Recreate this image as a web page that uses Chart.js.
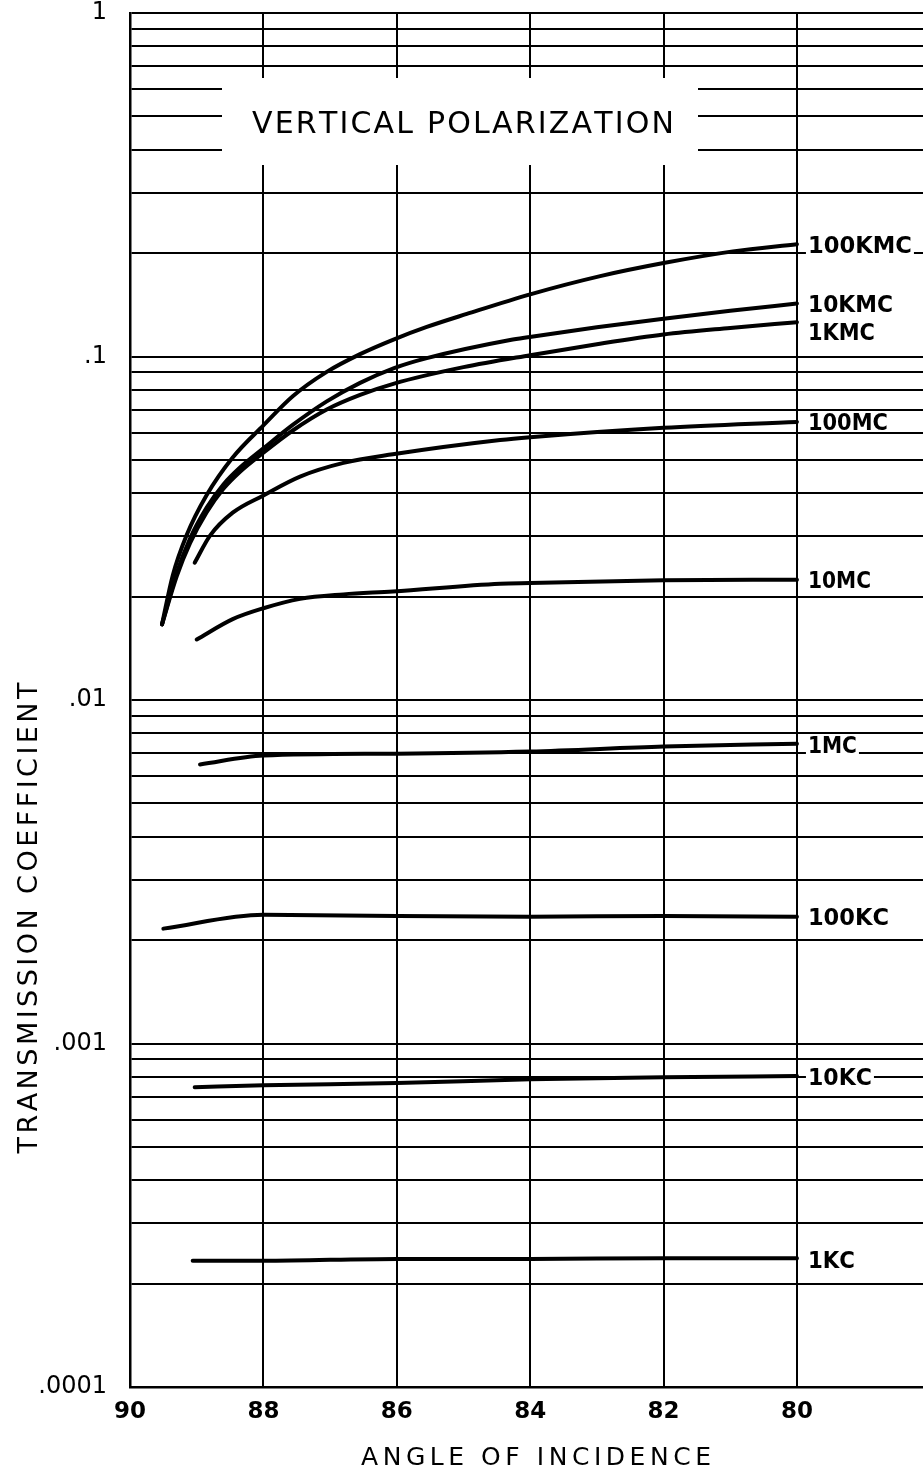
<!DOCTYPE html>
<html>
<head>
<meta charset="utf-8">
<script src="https://cdn.jsdelivr.net/npm/chart.js@4.4.1/dist/chart.umd.min.js"></script>
<style>
html,body{margin:0;padding:0;background:#fff;}
canvas{display:block;}
</style>
</head>
<body>
<canvas id="c" width="923" height="1475"></canvas>
<script>
// ---------------- DATA ----------------
const chartTitle = 'VERTICAL POLARIZATION';
const xTitle = 'ANGLE OF INCIDENCE';
const yTitle = 'TRANSMISSION COEFFICIENT';

const xTicks = [90, 88, 86, 84, 82, 80];
const xTickLabels = ['90', '88', '86', '84', '82', '80'];
const yDecades = [0.0001, 0.001, 0.01, 0.1, 1];
const yDecadeLabels = ['.0001', '.001', '.01', '.1', '1'];
const yMinorSteps = [1, 2, 3, 4, 5, 6, 7, 8, 9];

const seriesNames = ['100KMC', '10KMC', '1KMC', '100MC', '10MC', '1MC', '100KC', '10KC', '1KC'];

const angles100KMC = [89.52, 89.36, 89.15, 88.85, 88.46, 88.0, 87.56, 87.05, 86.55, 86.04, 85.55, 84.95, 84.0, 82.95, 82.0, 80.96, 80.0];
const coef100KMC   = [0.0166, 0.0230, 0.0302, 0.0395, 0.0508, 0.0630, 0.0766, 0.0902, 0.1016, 0.1122, 0.1219, 0.1330, 0.1517, 0.1714, 0.1871, 0.2023, 0.2123];

const angles10KMC = [89.52, 89.3, 89.1, 88.85, 88.6, 88.35, 88.0, 87.56, 87.05, 86.55, 86.04, 85.55, 84.3, 84.0, 83.0, 82.0, 81.0, 80.0];
const coef10KMC   = [0.0166, 0.0234, 0.0295, 0.0363, 0.0424, 0.0475, 0.0540, 0.0632, 0.0740, 0.0838, 0.0925, 0.0989, 0.1117, 0.1140, 0.1216, 0.1288, 0.1358, 0.1426];

const angles1KMC = [89.52, 89.3, 89.1, 88.85, 88.6, 88.35, 88.0, 87.56, 87.05, 86.55, 86.04, 85.0, 84.0, 83.0, 82.0, 81.0, 80.0];
const coef1KMC   = [0.0166, 0.0229, 0.0286, 0.0352, 0.0412, 0.0462, 0.0525, 0.0609, 0.0701, 0.0773, 0.0834, 0.0931, 0.1009, 0.1086, 0.1159, 0.1211, 0.1259];

const angles100MC = [89.03, 88.8, 88.46, 88.0, 87.45, 86.8, 86.06, 84.45, 84.0, 82.0, 80.0];
const coef100MC   = [0.0251, 0.0301, 0.0351, 0.0394, 0.0447, 0.0490, 0.0519, 0.0571, 0.0582, 0.0620, 0.0645];

const angles10MC = [89.0, 88.46, 88.0, 87.45, 86.8, 86.06, 84.45, 84.0, 82.0, 80.0];
const coef10MC   = [0.0150, 0.0172, 0.0185, 0.0197, 0.0203, 0.0207, 0.0218, 0.0219, 0.0223, 0.0224];

const angles1MC = [88.95, 88.0, 86.0, 84.0, 82.0, 80.0];
const coef1MC   = [0.00649, 0.00689, 0.00698, 0.00708, 0.00732, 0.00746];

const angles100KC = [89.5, 88.0, 86.0, 84.0, 82.0, 80.0];
const coef100KC   = [0.00216, 0.00237, 0.00235, 0.00234, 0.00235, 0.00234];

const angles10KC = [89.03, 88.0, 86.0, 84.0, 82.0, 80.0];
const coef10KC   = [0.000746, 0.000756, 0.000767, 0.000787, 0.000798, 0.000804];

const angles1KC = [89.06, 88.0, 86.0, 84.0, 82.0, 80.0];
const coef1KC   = [0.000233, 0.000233, 0.000236, 0.000236, 0.000237, 0.000237];

const seriesAngles = [angles100KMC, angles10KMC, angles1KMC, angles100MC, angles10MC, angles1MC, angles100KC, angles10KC, angles1KC];
const seriesCoefs  = [coef100KMC, coef10KMC, coef1KMC, coef100MC, coef10MC, coef1MC, coef100KC, coef10KC, coef1KC];

// ---------------- STYLE / DRAWING ----------------
const FAMILY = "'DejaVu Sans', 'Liberation Sans', sans-serif";
const CAP = 0.73;

function spacedText(ctx, text, cx, cy, width, size, weight) {
  ctx.save();
  ctx.font = (weight || 'normal') + ' ' + size + 'px ' + FAMILY;
  ctx.textAlign = 'left';
  ctx.textBaseline = 'alphabetic';
  const chars = [...text];
  const ws = chars.map(ch => ctx.measureText(ch).width);
  const nat = ws.reduce((a, b) => a + b, 0);
  const base = cy + size * CAP / 2;
  if (nat >= width) {
    ctx.translate(cx - width / 2, base);
    ctx.scale(width / nat, 1);
    let x = 0;
    chars.forEach((ch, i) => { ctx.fillText(ch, x, 0); x += ws[i]; });
  } else {
    const gap = chars.length > 1 ? (width - nat) / (chars.length - 1) : 0;
    let x = cx - width / 2;
    chars.forEach((ch, i) => { ctx.fillText(ch, x, base); x += ws[i] + gap; });
  }
  ctx.restore();
}

const labelWidths = [104, 85, 67, 80, 63, 49, 81, 64, 47];
const labelNudge  = [0, 0, 9, 0, 0, 1, 0, 1, 1];

const annotations = {
  id: 'annotations',
  beforeDraw(chart) {
    const ctx = chart.ctx;
    ctx.save();
    ctx.fillStyle = '#fff';
    ctx.fillRect(0, 0, chart.width, chart.height);
    ctx.restore();
  },
  beforeDatasetsDraw(chart) {
    const ctx = chart.ctx;
    ctx.save();
    ctx.fillStyle = '#fff';
    ctx.fillRect(222, 78, 476, 87);
    ctx.fillStyle = '#000';
    spacedText(ctx, chartTitle, 463, 122, 422, 30, 'normal');
    ctx.restore();
  },
  afterDatasetsDraw(chart) {
    const ctx = chart.ctx;
    const xs = chart.scales.x, ys = chart.scales.y;
    ctx.save();
    const x80 = xs.getPixelForValue(80);
    seriesNames.forEach((name, i) => {
      const coefs = seriesCoefs[i];
      const y = ys.getPixelForValue(coefs[coefs.length - 1]) + labelNudge[i];
      const left = x80 + 11;
      const w = labelWidths[i];
      ctx.fillStyle = '#fff';
      ctx.fillRect(left - 2, y - 10, w + 4, 20);
      ctx.fillStyle = '#000';
      spacedText(ctx, name, left + w / 2, y, w, 23, 'bold');
    });
    ctx.fillStyle = '#000';
    spacedText(ctx, xTitle, 536, 1456, 350, 25, 'normal');
    ctx.translate(27, 918);
    ctx.rotate(-Math.PI / 2);
    spacedText(ctx, yTitle, 0, 0, 471, 27, 'normal');
    ctx.restore();
  }
};

const datasets = seriesNames.map((name, i) => ({
  label: name,
  data: seriesAngles[i].map((a, j) => ({ x: a, y: seriesCoefs[i][j] })),
  borderColor: '#000',
  backgroundColor: '#000',
  borderWidth: 4,
  pointRadius: 0,
  pointHoverRadius: 0,
  fill: false,
  cubicInterpolationMode: 'monotone',
  borderCapStyle: 'round',
  borderJoinStyle: 'round'
}));

new Chart(document.getElementById('c'), {
  type: 'line',
  data: { datasets },
  options: {
    responsive: false,
    animation: false,
    devicePixelRatio: 1,
    layout: { padding: { top: 13, right: 0, bottom: 0, left: 0 } },
    plugins: { legend: { display: false }, tooltip: { enabled: false }, title: { display: false } },
    scales: {
      x: {
        type: 'linear',
        min: 78.11,
        max: 90,
        reverse: true,
        afterBuildTicks: s => { s.ticks = xTicks.map(v => ({ value: v })); },
        afterFit: s => { s.height = 88; s.paddingLeft = 0; s.paddingRight = 0; },
        ticks: {
          autoSkip: false,
          maxRotation: 0,
          padding: 14,
          color: '#000',
          font: { family: FAMILY, size: 23, weight: 'bold', lineHeight: 1 },
          callback: v => { const i = xTicks.indexOf(v); return i >= 0 ? xTickLabels[i] : ''; }
        },
        grid: { color: '#000', lineWidth: 2, drawTicks: false },
        border: { display: true, color: '#000', width: 2.5 }
      },
      y: {
        type: 'logarithmic',
        min: 0.0001,
        max: 1,
        afterBuildTicks: s => {
          const t = [];
          yDecades.slice(0, -1).forEach(d => yMinorSteps.forEach(m => t.push({ value: m * d })));
          t.push({ value: yDecades[yDecades.length - 1] });
          s.ticks = t;
        },
        afterFit: s => { s.width = 130; s.paddingTop = 0; s.paddingBottom = 0; },
        ticks: {
          autoSkip: false,
          padding: 23,
          color: '#000',
          font: { family: FAMILY, size: 24, lineHeight: 1 },
          callback: v => { const i = yDecades.findIndex(d => Math.abs(v / d - 1) < 1e-6); return i >= 0 ? yDecadeLabels[i] : ''; }
        },
        grid: { color: '#000', lineWidth: 2, drawTicks: false },
        border: { display: true, color: '#000', width: 2.5 }
      }
    }
  },
  plugins: [annotations]
});
</script>
</body>
</html>
